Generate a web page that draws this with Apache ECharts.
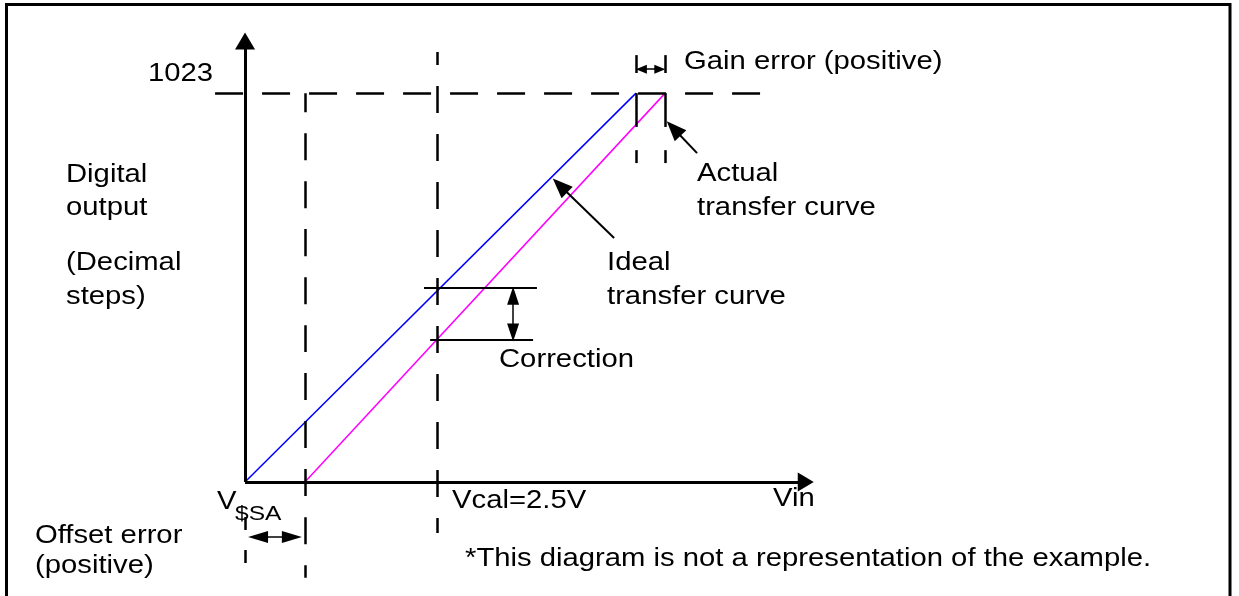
<!DOCTYPE html>
<html>
<head>
<meta charset="utf-8">
<script src="https://cdn.jsdelivr.net/npm/echarts@6/dist/echarts.min.js"></script>
<style>
  html, body { margin: 0; padding: 0; background: #fff; }
  #main { width: 1239px; height: 596px; }
</style>
</head>
<body>
<div id="main"></div>
<script>
// transfer curve values (Vin in volts, output in decimal steps)
const vssa = 0;
const vOffset = 0.78;        // actual curve starts here (offset error)
const vcal = 2.5;
const vIdealFull = 5.09;     // ideal curve reaches 1023
const vActualFull = 5.47;    // actual curve reaches 1023 (gain error)
const fullScale = 1023;
const idealAtCal = 510;
const actualAtCal = 373;

const idealCurve = [[vssa, 0], [vIdealFull, fullScale]];
const actualCurve = [[vOffset, 0], [vActualFull, fullScale]];

const labelFull = '1023';
const labelY = ['Digital', 'output', '(Decimal', 'steps)'];
const labelGain = 'Gain error (positive)';
const labelActual = ['Actual', 'transfer curve'];
const labelIdeal = ['Ideal', 'transfer curve'];
const labelCorr = 'Correction';
const labelVcal = 'Vcal=2.5V';
const labelVin = 'Vin';
const labelVssa = ['V', '$SA'];
const labelOffset = ['Offset error', '(positive)'];
const labelNote = '*This diagram is not a representation of the example.';

let chart = echarts.init(document.getElementById('main'));

const black = '#000';
const solid = (w) => ({ color: black, width: w, type: 'solid' });
const dashed = (w, off, pat) => ({ color: black, width: w, type: pat || [27, 21], dashOffset: off || 0 });

// helper for a markLine segment
const seg = (a, b, style, symA, symB) => [
    Object.assign({ coord: a, lineStyle: style }, symA ? { symbol: symA[0], symbolSize: symA[1] } : { symbol: 'none' }),
    Object.assign({ coord: b }, symB ? { symbol: symB[0], symbolSize: symB[1] } : { symbol: 'none' })
];

const marks = [
    // axes
    seg([0, 0], [0, 1160], solid(3), null, ['triangle', [20, 17]]),
    seg([0, 0], [7.3, 0], solid(3), null, ['triangle', [19, 16]]),
    // 1023 level
    seg([-0.39, fullScale], [6.71, fullScale], dashed(2.5, 0, [28, 19])),
    // verticals
    seg([vOffset, fullScale], [vOffset, -252], dashed(2.5, 8)),
    seg([vcal, 1131], [vcal, -134], dashed(2.5, 14)),
    seg([vssa, -92], [vssa, -218], dashed(2.5, 0, [13, 20])),
    // gain error markers
    seg([vIdealFull, 1123], [vIdealFull, 1076], solid(2.5)),
    seg([vIdealFull, fullScale], [vIdealFull, 934], solid(2.5)),
    seg([vIdealFull, 873], [vIdealFull, 839], solid(2.5)),
    seg([vActualFull, 1123], [vActualFull, 1076], solid(2.5)),
    seg([vActualFull, fullScale], [vActualFull, 934], solid(2.5)),
    seg([vActualFull, 873], [vActualFull, 839], solid(2.5)),
    seg([5.16, 1086], [5.40, 1086], solid(1.5), ['triangle', [9, 11]], ['triangle', [9, 11]]),
    // correction
    seg([2.33, idealAtCal], [3.80, idealAtCal], solid(2)),
    seg([2.41, actualAtCal], [3.75, actualAtCal], solid(2)),
    seg([3.49, 490], [3.49, 393], solid(1.5), ['triangle', [12, 18]], ['triangle', [12, 18]]),
    // offset error
    seg([0.17, -145], [0.61, -145], solid(1.5), ['triangle', [12, 20]], ['triangle', [12, 20]]),
    // pointers
    seg([5.885, 865], [5.58, 930], solid(2), null, ['triangle', [16, 20]]),
    seg([4.805, 642], [4.10, 780], solid(2), null, ['triangle', [16, 20]])
];

const font = 'Liberation Sans';
const sx = 1.17;
const txt = (s, x, y, size, align) => ({
    type: 'text', x: x, y: y, scaleX: sx, z: 10,
    style: { text: s, fill: black, fontSize: size || 25, fontFamily: font, align: align || 'left', verticalAlign: 'middle' }
});

let option = {
    backgroundColor: '#fff',
    animation: false,
    grid: { left: 0, right: 0, top: 0, bottom: 0 },
    xAxis: { type: 'value', min: -3.19, max: 12.94, show: false },
    yAxis: { type: 'value', min: -300, max: 1268, show: false },
    graphic: [
        { type: 'rect', shape: { x: 6.5, y: 4.5, width: 1223.5, height: 700 }, style: { fill: 'none', stroke: black, lineWidth: 3 } },
        txt(labelFull, 213, 74, 25, 'right'),
        txt(labelGain, 684, 62),
        txt(labelActual[0], 697, 174),
        txt(labelActual[1], 697, 208),
        txt(labelY[0], 66, 175),
        txt(labelY[1], 66, 208),
        txt(labelY[2], 66, 263),
        txt(labelY[3], 66, 297),
        txt(labelIdeal[0], 607, 263),
        txt(labelIdeal[1], 607, 297),
        txt(labelCorr, 499, 360),
        txt(labelVcal, 452, 501),
        txt(labelVin, 773, 499),
        txt(labelVssa[0], 217, 502),
        txt(labelVssa[1], 235, 514, 21),
        txt(labelNote, 465, 559),
        txt(labelOffset[0], 35, 536),
        txt(labelOffset[1], 35, 566)
    ],
    series: [{
        name: 'Ideal',
        type: 'line',
        data: idealCurve,
        symbol: 'none',
        lineStyle: { color: '#0000ff', width: 1.5 },
        z: 3
    }, {
        name: 'Actual',
        type: 'line',
        data: actualCurve,
        symbol: 'none',
        lineStyle: { color: '#ff00ff', width: 1.5 },
        z: 3
    }, {
        name: 'notes',
        type: 'line',
        data: [],
        markLine: {
            silent: true,
            animation: false,
            label: { show: false },
            emphasis: { disabled: true },
            itemStyle: { color: black },
            data: marks
        }
    }]
};
chart.setOption(option);
</script>
</body>
</html>
